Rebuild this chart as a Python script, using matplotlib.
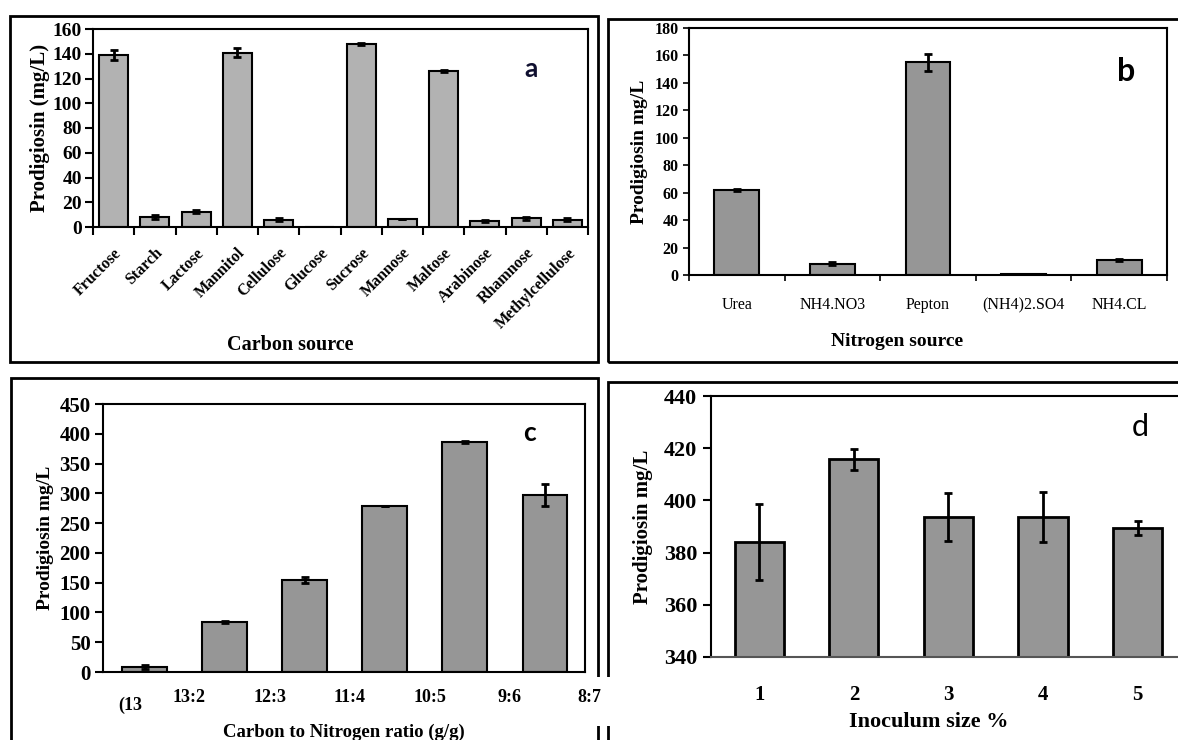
import numpy as np
import matplotlib
matplotlib.use('Agg')
import matplotlib.pyplot as plt
from matplotlib.patches import Rectangle

# Data section
carbon_names = ['Fructose', 'Starch', 'Lactose', 'Mannitol', 'Cellulose', 'Glucose',
                'Sucrose', 'Mannose', 'Maltose', 'Arabinose', 'Rhamnose', 'Methylcellulose']
carbon_vals = [139, 8, 12.5, 141, 6, 0, 148, 6.5, 126, 5, 7, 6]
carbon_err = [4, 1.5, 1, 3.5, 1.5, 0, 1, 0, 1, 1, 1, 1]

nitrogen_names = ['Urea', 'NH4.NO3', 'Pepton', '(NH4)2.SO4', 'NH4.CL']
nitrogen_vals = [62, 8.2, 155, 0.8, 11]
nitrogen_err = [1, 1, 6, 0, 1]

ratio_labels = ['13:2', '12:3', '11:4', '10:5', '9:6', '8:7']
ratio_vals = [8, 84, 155, 279, 386, 297]
ratio_err = [3.5, 2, 5, 0, 2, 19]

inoc_names = ['1', '2', '3', '4', '5']
inoc_vals = [384, 415.8, 393.5, 393.5, 389.5]
inoc_err = [14.6, 4, 9.2, 9.6, 2.7]

W, H = 1178, 740
plt.rcParams['font.family'] = ['Liberation Serif', 'DejaVu Serif']

fig = plt.figure(figsize=(W / 100, H / 100), dpi=100)


# helper: axes from pixel box
def px_axes(left, top, right, bottom):
    return fig.add_axes([left / W, 1 - bottom / H, (right - left) / W, (bottom - top) / H])


def frame(left, top, right, bottom, lw=2):
    fig.patches.append(Rectangle((left / W, 1 - bottom / H), (right - left) / W, (bottom - top) / H,
                                 transform=fig.transFigure, fill=False, lw=lw, ec='black', zorder=1))


# outer frames
frame(10, 16, 598, 362)
frame(608, 19, 1190, 362)
frame(11, 378, 598, 760)
frame(608, 382, 1190, 760)

ebar = dict(ecolor='black', elinewidth=2, capsize=3, capthick=2)

# Panel a
ax = px_axes(93, 29, 588, 227)
x = np.arange(len(carbon_names))
ax.bar(x, carbon_vals, width=0.7, color='#b2b2b2', edgecolor='black', lw=1.5,
       yerr=carbon_err, error_kw=ebar)
ax.set_xlim(-0.5, len(carbon_names) - 0.5)
ax.set_ylim(0, 160)
ax.set_yticks(range(0, 161, 20))
ax.set_xticks(np.arange(len(carbon_names) + 1) - 0.5)
ax.set_xticklabels([])
ax.set_xticks(x, minor=True)
ax.set_xticklabels(carbon_names, minor=True, rotation=45, ha='right', rotation_mode='anchor',
                   fontweight='bold', fontsize=11.5)
ax.tick_params(axis='x', which='minor', length=0, pad=13)
ax.tick_params(axis='x', which='major', length=6, width=1.5, direction='out')
ax.tick_params(axis='y', length=6, width=1.5, direction='out', labelsize=14, pad=2)
for lab in ax.get_yticklabels():
    lab.set_fontweight('bold')
for s in ax.spines.values():
    s.set_linewidth(1.5)
ax.set_ylabel('Prodigiosin (mg/L)', fontsize=15, fontweight='bold', labelpad=2)
ax.text((290 - 93) / 495, -(345 - 227) / 198, 'Carbon source', transform=ax.transAxes,
        ha='center', va='center', fontsize=14.5, fontweight='bold')
ax.text(0.885, 0.8, 'a', transform=ax.transAxes, ha='center', va='center', family='Lato',
        fontweight='bold', fontsize=19, color='#101030')

# Panel b
ax = px_axes(689, 28, 1167, 275)
x = np.arange(len(nitrogen_names))
ax.bar(x, nitrogen_vals, width=0.47, color='#969696', edgecolor='black', lw=1.5,
       yerr=nitrogen_err, error_kw=ebar)
ax.set_xlim(-0.5, len(nitrogen_names) - 0.5)
ax.set_ylim(0, 180)
ax.set_yticks(range(0, 181, 20))
ax.set_xticks(np.arange(len(nitrogen_names) + 1) - 0.5)
ax.set_xticklabels([])
ax.set_xticks(x, minor=True)
ax.set_xticklabels(nitrogen_names, minor=True, fontsize=11.5)
ax.tick_params(axis='x', which='minor', length=0, pad=16)
ax.tick_params(axis='x', which='major', length=4, width=1.2, direction='out')
ax.tick_params(axis='y', length=4, width=1.2, direction='out', labelsize=11.5)
for lab in ax.get_yticklabels():
    lab.set_fontweight('bold')
for s in ax.spines.values():
    s.set_linewidth(1.5)
ax.set_ylabel('Prodigiosin mg/L', fontsize=14, fontweight='bold', labelpad=5)
ax.text((897 - 689) / 478, -(341 - 275) / 247, 'Nitrogen source', transform=ax.transAxes,
        ha='center', va='center', fontsize=14, fontweight='bold')
ax.text(0.915, 0.825, 'b', transform=ax.transAxes, ha='center', va='center', family='Lato',
        fontweight='bold', fontsize=23, color='black')

# Panel c
ax = px_axes(103, 404, 585, 672)
ax.set_zorder(3)
x = np.arange(len(ratio_vals))
ax.bar(x, ratio_vals, width=0.56, color='#969696', edgecolor='black', lw=1.5,
       yerr=ratio_err, error_kw=ebar)
ax.set_xlim(-0.52, len(ratio_vals) - 0.5)
ax.set_ylim(0, 450)
ax.set_yticks(range(0, 451, 50))
ax.set_xticks([])
ax.tick_params(axis='y', length=6, width=1.5, direction='out', labelsize=15, pad=3)
for lab in ax.get_yticklabels():
    lab.set_fontweight('bold')
for s in ax.spines.values():
    s.set_linewidth(1.5)
tr = ax.get_xaxis_transform()
ax.text(-0.18, -33 / 268, '(13', transform=tr, ha='center', va='center', fontsize=13,
        fontweight='bold', clip_on=False)
for i, lab in enumerate(ratio_labels):
    ax.text(i + 0.56, -25 / 268, lab, transform=tr, ha='center', va='center', fontsize=13,
            fontweight='bold', clip_on=False, zorder=5)
ax.text(0.5, -60 / 268, 'Carbon to Nitrogen ratio (g/g)', transform=ax.transAxes, ha='center',
        va='center', fontsize=13.5, fontweight='bold', clip_on=False)
ax.set_ylabel('Prodigiosin mg/L', fontsize=14, fontweight='bold', labelpad=4)
ax.text(0.885, 0.89, 'c', transform=ax.transAxes, ha='center', va='center', family='Lato',
        fontweight='bold', fontsize=19, color='black')

# gap in the frames around the 8:7 label
fig.patches.append(Rectangle((592 / W, 1 - 726 / H), 22 / W, 49 / H, transform=fig.transFigure,
                             fc='white', ec='none', zorder=2))

# Panel d
ax = px_axes(711, 396, 1185, 657)
x = np.arange(len(inoc_vals))
ax.bar(x, inoc_vals, width=0.52, color='#969696', edgecolor='black', lw=2,
       yerr=inoc_err, error_kw=ebar)
ax.set_xlim(-0.51, len(inoc_vals) - 0.5)
ax.set_ylim(340, 440)
ax.set_yticks(range(340, 441, 20))
ax.set_xticks(x)
ax.set_xticklabels(inoc_names, fontsize=15, fontweight='bold')
ax.tick_params(axis='x', length=0, pad=20)
ax.tick_params(axis='y', length=6, width=1.5, direction='out', labelsize=16, pad=4)
for lab in ax.get_yticklabels():
    lab.set_fontweight('bold')
for s in ax.spines.values():
    s.set_linewidth(1.5)
ax.spines['bottom'].set_color('#555555')
ax.set_ylabel('Prodigiosin mg/L', fontsize=15, fontweight='bold', labelpad=8)
ax.text((929 - 711) / 474, -(722 - 657) / 261, 'Inoculum size %', transform=ax.transAxes,
        ha='center', va='center', fontsize=16, fontweight='bold')
ax.text(0.905, 0.88, 'd', transform=ax.transAxes, ha='center', va='center', family='Lato',
        fontsize=22, color='black')

fig.savefig('out.png', dpi=100)
